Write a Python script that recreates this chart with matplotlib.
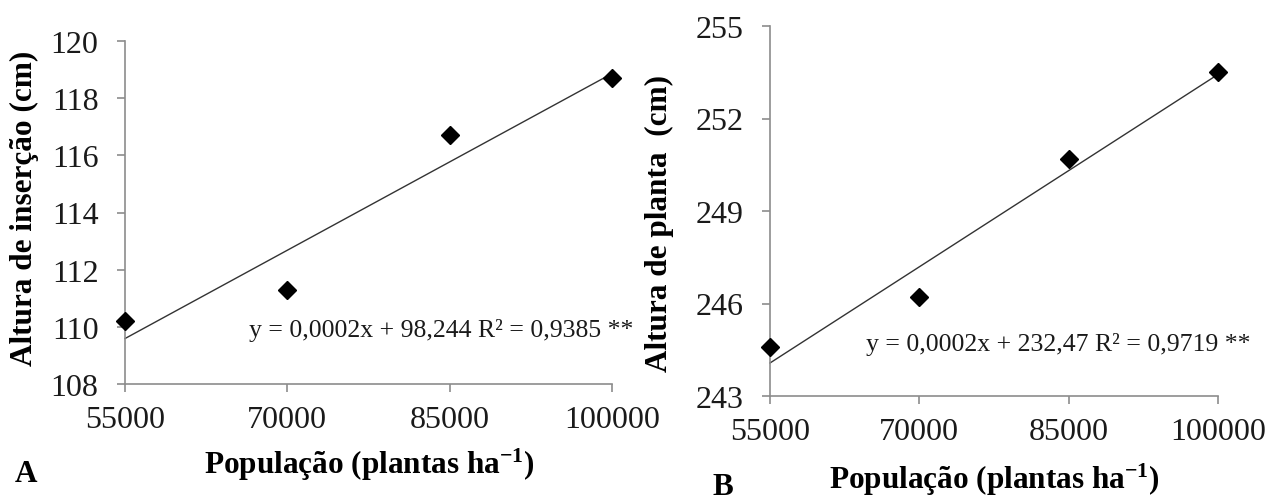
from matplotlib import pyplot as plt
import numpy as np

plt.rcParams['font.family'] = ['Liberation Serif', 'DejaVu Serif']
plt.rcParams['mathtext.default'] = 'regular'

# data
populacao = [55000, 70000, 85000, 100000]
insercao = [110.2, 111.3, 116.7, 118.7]
planta = [244.6, 246.2, 250.7, 253.5]

x_ticks = [55000, 70000, 85000, 100000]
y_ticks_a = [108, 110, 112, 114, 116, 118, 120]
y_ticks_b = [243, 246, 249, 252, 255]

eq_a = 'y = 0,0002x + 98,244 R² = 0,9385 **'
eq_b = 'y = 0,0002x + 232,47 R² = 0,9719 **'

W, H = 1271, 502
axis_gray = '#8c8c8c'
text_col = '#1a1a1a'


def panel(fig, box, x, y, y_ticks, eq, eq_pos):
    """draw one scatter panel with its linear trend line"""
    left, top, right, bottom = box
    ax = fig.add_axes([left / W, (H - bottom) / H, (right - left) / W, (bottom - top) / H])

    coef = np.polyfit(x, y, 1)
    xl = np.array([x_ticks[0], x_ticks[-1]])
    ax.plot(xl, np.polyval(coef, xl), color='#333333', lw=1.0, clip_on=False)
    ax.plot(x, y, 'D', color='black', ms=9, clip_on=False, zorder=3)

    ax.set_xlim(x_ticks[0], x_ticks[-1])
    ax.set_ylim(y_ticks[0], y_ticks[-1])
    ax.set_xticks(x_ticks)
    ax.set_yticks(y_ticks)
    ax.set_xticklabels([str(v) for v in x_ticks])
    ax.set_yticklabels([str(v) for v in y_ticks])

    for s in ['top', 'right']:
        ax.spines[s].set_visible(False)
    for s in ['left', 'bottom']:
        ax.spines[s].set_color(axis_gray)
        ax.spines[s].set_linewidth(1.2)
    ax.tick_params(axis='both', colors=axis_gray, width=1.2, length=6,
                   labelsize=23, labelcolor=text_col)
    ax.tick_params(axis='y', pad=13)
    ax.tick_params(axis='x', pad=9)

    ax.text(eq_pos[0], eq_pos[1], eq, fontsize=18.5, color=text_col,
            ha='center', va='center')
    return ax


fig = plt.figure(figsize=(12.71, 5.02), dpi=100)

panel(fig, (125, 42, 612, 385), populacao, insercao, y_ticks_a, eq_a, (84250, 109.9))
panel(fig, (770, 27, 1218, 397), populacao, planta, y_ticks_b, eq_b, (84000, 244.7))

lab = dict(fontsize=22.5, fontweight='bold', color='black')
fig.text(24 / W, 1 - 208 / H, 'Altura de inserção (cm)', rotation=90,
         ha='center', va='center', **lab)
fig.text(659 / W, 1 - 223 / H, 'Altura de planta  (cm)', rotation=90,
         ha='center', va='center', **lab)
fig.text(369 / W, 1 - 465 / H, 'População (plantas ha$^{-1}$)',
         ha='center', va='center', **lab)
fig.text(994 / W, 1 - 480 / H, 'População (plantas ha$^{-1}$)',
         ha='center', va='center', **lab)
fig.text(26 / W, 1 - 474 / H, 'A', ha='center', va='center', **lab)
fig.text(723 / W, 1 - 488 / H, 'B', ha='center', va='center', **lab)

fig.savefig('out.png', dpi=100)
